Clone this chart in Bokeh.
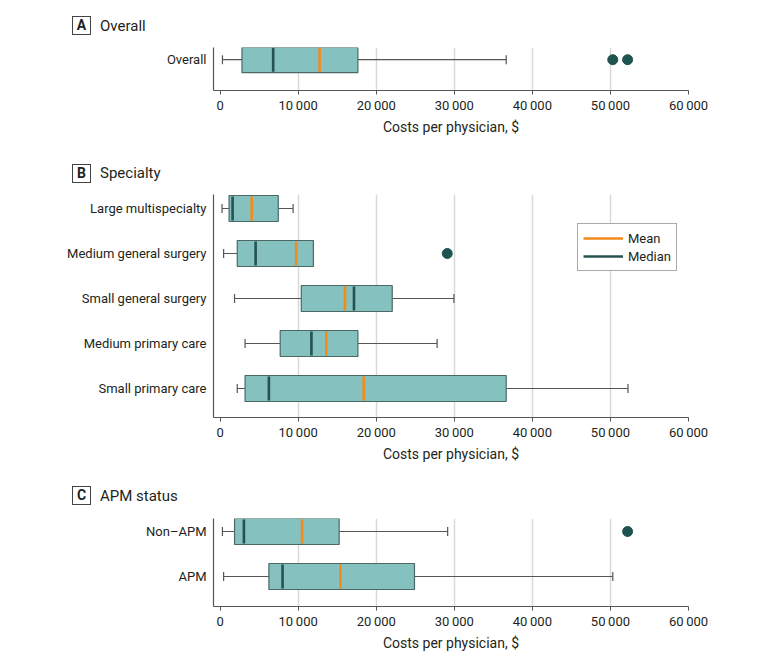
from bokeh.plotting import figure
from bokeh.layouts import column
from bokeh.models import Range1d, FixedTicker, Legend, LegendItem, Div
from bokeh.embed import file_html
from bokeh.resources import INLINE

FONT = "Roboto"
TEXT = "#231f20"
BOX_FILL = "#84c1bf"
BOX_LINE = "#4c6866"
MEDIAN_C = "#24524f"
MEAN_C = "#f28a1c"
WHISK_C = "#555555"
DOT_C = "#1f5350"

x_ticks = [0, 10000, 20000, 30000, 40000, 50000, 60000]
x_tick_labels = ["0", "10\u2009000", "20\u2009000", "30\u2009000", "40\u2009000", "50\u2009000", "60\u2009000"]
x_title = "Costs per physician, $"

# Panel A
a_cats = ["Overall"]
a_lo = [300]
a_q1 = [2800]
a_med = [6800]
a_mean = [12750]
a_q3 = [17650]
a_hi = [36650]
a_out_cat = ["Overall", "Overall"]
a_out_val = [50300, 52200]

# Panel B
b_cats = ["Large multispecialty", "Medium general surgery", "Small general surgery",
          "Medium primary care", "Small primary care"]
b_lo = [250, 450, 1850, 3200, 2200]
b_q1 = [1150, 2200, 10400, 7700, 3200]
b_med = [1600, 4550, 17150, 11700, 6250]
b_mean = [4050, 9750, 16000, 13600, 18400]
b_q3 = [7450, 11950, 22050, 17650, 36650]
b_hi = [9350, 11950, 29950, 27800, 52250]
b_out_cat = ["Medium general surgery"]
b_out_val = [29100]

# Panel C
c_cats = ["Non\u2013APM", "APM"]
c_lo = [300, 450]
c_q1 = [1850, 6250]
c_med = [3050, 8000]
c_mean = [10500, 15400]
c_q3 = [15250, 24900]
c_hi = [29150, 50300]
c_out_cat = ["Non\u2013APM"]
c_out_val = [52200]

HALF = 0.289   # half box height in category units
CAP = 0.1
WIDTH = 748


def title_div(letter, title, height, cy):
    html = (
        f'<div style="position:relative;width:400px;height:{height}px;">'
        f'<span style="position:absolute;left:72px;top:{cy - 9.5}px;width:19px;height:19px;'
        f'box-sizing:border-box;border:1px solid #444;font-family:{FONT};font-weight:bold;'
        f'font-size:14px;line-height:17px;text-align:center;color:{TEXT};">{letter}</span>'
        f'<span style="position:absolute;left:100px;top:{cy - 10}px;font-family:{FONT};'
        f'font-size:15px;line-height:20px;color:{TEXT};white-space:nowrap;">{title}</span>'
        f'</div>'
    )
    return Div(text=html, width=WIDTH, height=height, margin=0)


def panel(cats, lo, q1, med, mean, q3, hi, out_cat, out_val,
          height, top, bottom, pad_top, pad_bottom, legend_loc=None):
    n = len(cats)
    ys = list(range(n))
    p = figure(width=WIDTH, height=height, output_backend="svg", toolbar_location=None,
               x_range=Range1d(-845, 60000),
               y_range=Range1d(n - 1 + pad_bottom, -pad_top),
               min_border_left=213, min_border_right=60,
               min_border_top=top, min_border_bottom=bottom, margin=0)
    p.outline_line_color = None
    p.background_fill_color = "white"
    p.border_fill_color = "white"

    # whiskers
    p.segment(x0=lo, y0=ys, x1=q1, y1=ys, line_color=WHISK_C, line_width=1.2)
    p.segment(x0=q3, y0=ys, x1=hi, y1=ys, line_color=WHISK_C, line_width=1.2)
    p.segment(x0=lo, y0=[y - CAP for y in ys], x1=lo, y1=[y + CAP for y in ys],
              line_color=WHISK_C, line_width=1.2)
    p.segment(x0=hi, y0=[y - CAP for y in ys], x1=hi, y1=[y + CAP for y in ys],
              line_color=WHISK_C, line_width=1.2)
    # boxes
    p.hbar(y=ys, height=2 * HALF, left=q1, right=q3, fill_color=BOX_FILL,
           line_color=BOX_LINE, line_width=1.2)
    med_r = p.segment(x0=med, y0=[y - HALF + 0.02 for y in ys], x1=med,
                      y1=[y + HALF - 0.02 for y in ys], line_color=MEDIAN_C, line_width=2.6)
    mean_r = p.segment(x0=mean, y0=[y - HALF + 0.02 for y in ys], x1=mean,
                       y1=[y + HALF - 0.02 for y in ys], line_color=MEAN_C, line_width=2.6)
    out_y = [cats.index(c) for c in out_cat]
    p.scatter(x=out_val, y=out_y, size=10, fill_color=DOT_C, line_color=DOT_C)

    # axes
    xa = p.xaxis[0]
    xa.ticker = FixedTicker(ticks=x_ticks)
    xa.major_label_overrides = dict(zip(x_ticks, x_tick_labels))
    xa.minor_tick_line_color = None
    xa.major_tick_in = 0
    xa.major_tick_out = 4
    xa.major_tick_line_color = WHISK_C
    xa.axis_line_color = WHISK_C
    xa.axis_line_width = 1.2
    xa.major_label_text_font = FONT
    xa.major_label_text_font_size = "13px"
    xa.major_label_text_color = TEXT
    xa.major_label_standoff = 3
    xa.axis_label = x_title
    xa.axis_label_text_font = FONT
    xa.axis_label_text_font_size = "14px"
    xa.axis_label_text_font_style = "normal"
    xa.axis_label_text_color = TEXT
    xa.axis_label_standoff = 3

    ya = p.yaxis[0]
    ya.ticker = FixedTicker(ticks=ys)
    ya.major_label_overrides = dict(zip(ys, cats))
    ya.minor_tick_line_color = None
    ya.major_tick_line_color = None
    ya.major_tick_in = 0
    ya.major_tick_out = 0
    ya.major_label_standoff = 7
    ya.axis_line_color = WHISK_C
    ya.axis_line_width = 1.2
    ya.major_label_text_font = FONT
    ya.major_label_text_font_size = "13px"
    ya.major_label_text_color = TEXT

    p.ygrid.visible = False
    p.xgrid.ticker = FixedTicker(ticks=x_ticks[1:])
    p.xgrid.grid_line_color = "#d9d9d9"
    p.xgrid.grid_line_width = 1.5

    if legend_loc is not None:
        leg = Legend(items=[LegendItem(label="Mean", renderers=[mean_r]),
                            LegendItem(label="Median", renderers=[med_r])],
                     location=legend_loc)
        leg.border_line_color = WHISK_C
        leg.border_line_width = 1.2
        leg.label_text_font = FONT
        leg.label_text_font_size = "13px"
        leg.label_text_color = TEXT
        leg.glyph_width = 40
        leg.glyph_height = 18
        leg.label_height = 18
        leg.label_standoff = 5
        leg.spacing = 0
        leg.padding = 5
        leg.margin = 0
        leg.background_fill_alpha = 1
        p.add_layout(leg)
    return p


da = title_div("A", "Overall", 38, 25.5)
pa = panel(a_cats, a_lo, a_q1, a_med, a_mean, a_q3, a_hi, a_out_cat, a_out_val,
           height=117, top=9, bottom=65, pad_top=0.273, pad_bottom=0.69)
db = title_div("B", "Specialty", 30, 18)
pb = panel(b_cats, b_lo, b_q1, b_med, b_mean, b_q3, b_hi, b_out_cat, b_out_val,
           height=285, top=9, bottom=53, pad_top=0.311, pad_bottom=0.644,
           legend_loc=(364, 146))
dc = title_div("C", "APM status", 38, 25.5)
pc = panel(c_cats, c_lo, c_q1, c_med, c_mean, c_q3, c_hi, c_out_cat, c_out_val,
           height=152, top=10, bottom=54, pad_top=0.289, pad_bottom=0.667)

layout = column(da, pa, db, pb, dc, pc, spacing=0)
open("out.html", "w").write(file_html(layout, INLINE))
